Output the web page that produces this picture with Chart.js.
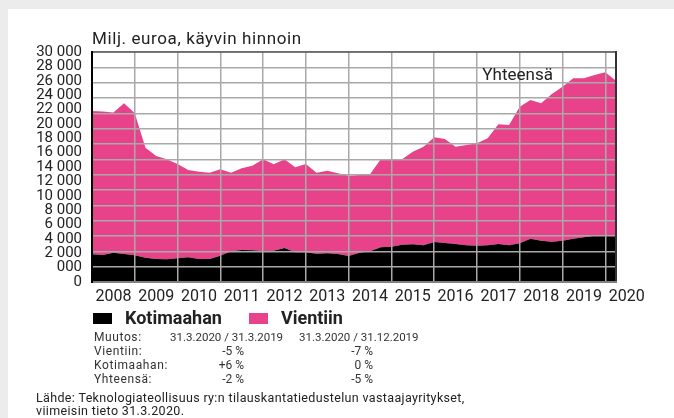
<!DOCTYPE html>
<html lang="fi">
<head>
<meta charset="utf-8">
<title>Tilauskanta</title>
<script src="https://cdn.jsdelivr.net/npm/chart.js@4.4.1/dist/chart.umd.min.js"></script>
<style>
  html, body { margin: 0; padding: 0; }
  body {
    width: 674px; height: 418px; position: relative; overflow: hidden;
    background: #ececec; font-family: Roboto, "Noto Sans", sans-serif; color: #222;
  }
  .panel { position: absolute; left: 8px; top: 9px; right: 0; bottom: 0; background: #fff; }
  #chart { position: absolute; left: 0; top: 0; }
  .title { position: absolute; left: 92px; top: 28px; font-size: 17px; letter-spacing: 0.6px; line-height: 20px; white-space: nowrap; }
  .legend { position: absolute; left: 93px; top: 307px; height: 22px; display: flex; align-items: center; }
  .legend .item { display: flex; align-items: center; margin-right: 27px; }
  .legend .box { width: 19px; height: 11px; margin-right: 13px; }
  .legend .name { font-size: 18px; font-weight: 700; line-height: 22px; }
  .tbl { position: absolute; font-size: 12px; line-height: 14px; color: #333; white-space: nowrap; }
  .tbl.lab { letter-spacing: 0.6px; }
  .tbl.num { font-size: 11.5px; }
  .src { position: absolute; left: 36px; top: 392px; font-size: 12.5px; letter-spacing: 0.35px; line-height: 12.5px; color: #222; white-space: nowrap; }
</style>
</head>
<body>
<div class="panel"></div>
<canvas id="chart" width="674" height="418"></canvas>
<div class="title">Milj. euroa, käyvin hinnoin</div>
<div class="legend" id="legend"></div>
<div id="table"></div>
<div class="src">Lähde: Teknologiateollisuus ry:n tilauskantatiedustelun vastaajayritykset,<br>viimeisin tieto 31.3.2020.</div>
<script>
(function () {
  // quarter ends, 31.12.2007 ... 31.3.2020
  const quarters = [
    'Q4/07',
    'Q1/08', 'Q2/08', 'Q3/08', 'Q4/08', 'Q1/09', 'Q2/09', 'Q3/09', 'Q4/09',
    'Q1/10', 'Q2/10', 'Q3/10', 'Q4/10', 'Q1/11', 'Q2/11', 'Q3/11', 'Q4/11',
    'Q1/12', 'Q2/12', 'Q3/12', 'Q4/12', 'Q1/13', 'Q2/13', 'Q3/13', 'Q4/13',
    'Q1/14', 'Q2/14', 'Q3/14', 'Q4/14', 'Q1/15', 'Q2/15', 'Q3/15', 'Q4/15',
    'Q1/16', 'Q2/16', 'Q3/16', 'Q4/16', 'Q1/17', 'Q2/17', 'Q3/17', 'Q4/17',
    'Q1/18', 'Q2/18', 'Q3/18', 'Q4/18', 'Q1/19', 'Q2/19', 'Q3/19', 'Q4/19',
    'Q1/20'
  ];
  const kotimaahan = [
    3610, 3520, 3830, 3650, 3480, 3170, 3000, 2960, 3090, 3220,
    3000, 3000, 3430, 4000, 4170, 4130, 4040, 4090, 4430, 3870,
    3870, 3700, 3740, 3650, 3390, 3830, 4000, 4520, 4610, 4870,
    4910, 4780, 5220, 5090, 4960, 4780, 4740, 4780, 4960, 4780,
    5040, 5650, 5390, 5260, 5390, 5650, 5830, 6040, 6090, 6090
  ];
  const vientiin = [
    18690, 18730, 18270, 19650, 18520, 14330, 13430, 13040, 12300, 11380,
    11390, 11260, 11270, 10260, 10660, 11040, 11960, 11260, 11570, 11090,
    11520, 10560, 10780, 10520, 10480, 10130, 10050, 11480, 11390, 11130,
    12090, 12870, 13650, 13560, 12690, 13090, 13350, 13960, 15610, 15700,
    17830, 18090, 17910, 19260, 20090, 20920, 20740, 20960, 21260, 20170
  ];
  const years = ['2008', '2009', '2010', '2011', '2012', '2013', '2014',
                 '2015', '2016', '2017', '2018', '2019', '2020'];
  const yLabels = ['0', '000', '2 000', '4 000', '6 000', '8 000', '10 000', '12 000',
                   '14 000', '16 000', '18 000', '20 000', '22 000', '24 000',
                   '26 000', '28 000', '30 000'];
  const seriesNames = ['Kotimaahan', 'Vientiin'];
  const seriesColors = ['#000000', '#e8438a'];
  const totalLabel = { text: 'Yhteensä', q: 36.5, value: 26400 };

  const changeHead = ['Muutos:', '31.3.2020 / 31.3.2019', '31.3.2020 / 31.12.2019'];
  const changeRows = ['Vientiin:', 'Kotimaahan:', 'Yhteensä:'];
  const changeYear = ['-5 %', '+6 %', '-2 %'];
  const changeQuarter = ['-7 %', '0 %', '-5 %'];

  const gridColor = '#a9a9a9';

  // legend
  document.getElementById('legend').innerHTML = seriesNames.map((n, i) =>
    `<div class="item"><div class="box" style="background:${seriesColors[i]}"></div><div class="name">${n}</div></div>`
  ).join('');

  // change table
  const rowTop = (i) => 330 + i * 14;
  let html = `<div class="tbl lab" style="left:94px;top:${rowTop(0)}px">${changeHead[0]}</div>` +
    `<div class="tbl num" style="left:170px;top:${rowTop(0)}px">${changeHead[1]}</div>` +
    `<div class="tbl num" style="left:299px;top:${rowTop(0)}px">${changeHead[2]}</div>`;
  changeRows.forEach((r, i) => {
    const t = rowTop(i + 1);
    html += `<div class="tbl lab" style="left:94px;top:${t}px">${r}</div>` +
      `<div class="tbl" style="left:0;width:244px;text-align:right;top:${t}px">${changeYear[i]}</div>` +
      `<div class="tbl" style="left:0;width:373px;text-align:right;top:${t}px">${changeQuarter[i]}</div>`;
  });
  document.getElementById('table').innerHTML = html;

  const framePlugin = {
    id: 'frame',
    afterDraw(chart) {
      const { ctx, chartArea: a, scales } = chart;
      ctx.save();
      ctx.lineCap = 'square';
      const line = (x1, y1, x2, y2, color, w) => {
        ctx.strokeStyle = color; ctx.lineWidth = w;
        ctx.beginPath(); ctx.moveTo(x1, y1); ctx.lineTo(x2, y2); ctx.stroke();
      };
      line(a.left, a.top, a.right, a.top, '#5a5a5a', 1.5);
      line(a.right, a.top, a.right, a.bottom, '#333333', 2);
      line(a.left, a.bottom, a.right, a.bottom, '#808080', 2);
      line(a.left, a.top, a.left, a.bottom, '#000000', 2);

      ctx.fillStyle = '#222';
      ctx.font = '17px Roboto, "Noto Sans", sans-serif';
      ctx.textAlign = 'left';
      ctx.textBaseline = 'alphabetic';
      ctx.fillText(totalLabel.text, scales.x.getPixelForValue(totalLabel.q),
        scales.y.getPixelForValue(totalLabel.value));
      ctx.restore();
    }
  };

  new Chart(document.getElementById('chart'), {
    type: 'line',
    data: {
      labels: quarters,
      datasets: [
        {
          label: seriesNames[0],
          data: kotimaahan.map((v, i) => ({ x: i, y: v })),
          backgroundColor: seriesColors[0],
          borderWidth: 0,
          pointRadius: 0,
          fill: 'origin',
          tension: 0
        },
        {
          label: seriesNames[1],
          data: vientiin.map((v, i) => ({ x: i, y: v })),
          backgroundColor: seriesColors[1],
          borderWidth: 0,
          pointRadius: 0,
          fill: '-1',
          tension: 0
        }
      ]
    },
    options: {
      responsive: false,
      animation: false,
      layout: { padding: { left: 8, top: 52, right: 58, bottom: 110 } },
      plugins: { legend: { display: false }, tooltip: { enabled: false } },
      scales: {
        x: {
          type: 'linear',
          min: 0,
          max: quarters.length - 1,
          afterBuildTicks: (s) => { s.ticks = years.map((y, i) => ({ value: i * 4 })); },
          afterFit: (s) => { s.height = 26; },
          grid: { color: gridColor, lineWidth: 1.5, drawTicks: false, z: 1 },
          border: { display: false },
          ticks: {
            autoSkip: false,
            maxRotation: 0,
            padding: 5,
            labelOffset: 21.4,
            color: '#222',
            font: { family: 'Roboto', size: 16 },
            callback: (v) => years[v / 4]
          }
        },
        y: {
          stacked: true,
          min: 0,
          max: 30000,
          weight: 0,
          grid: { color: gridColor, lineWidth: 1.5, drawTicks: false, z: 1 },
          border: { display: false },
          ticks: { display: false, stepSize: 2000, autoSkip: false }
        },
        yLab: {
          position: 'left',
          min: 0,
          max: yLabels.length - 1,
          weight: 1,
          afterFit: (s) => { s.width = 84; },
          grid: { display: false, drawTicks: false },
          border: { display: false },
          ticks: {
            stepSize: 1,
            autoSkip: false,
            padding: 10,
            color: '#222',
            font: { family: 'Roboto', size: 15, lineHeight: 1 },
            callback: (v) => yLabels[v]
          }
        }
      }
    },
    plugins: [framePlugin]
  });
})();
</script>
</body>
</html>
